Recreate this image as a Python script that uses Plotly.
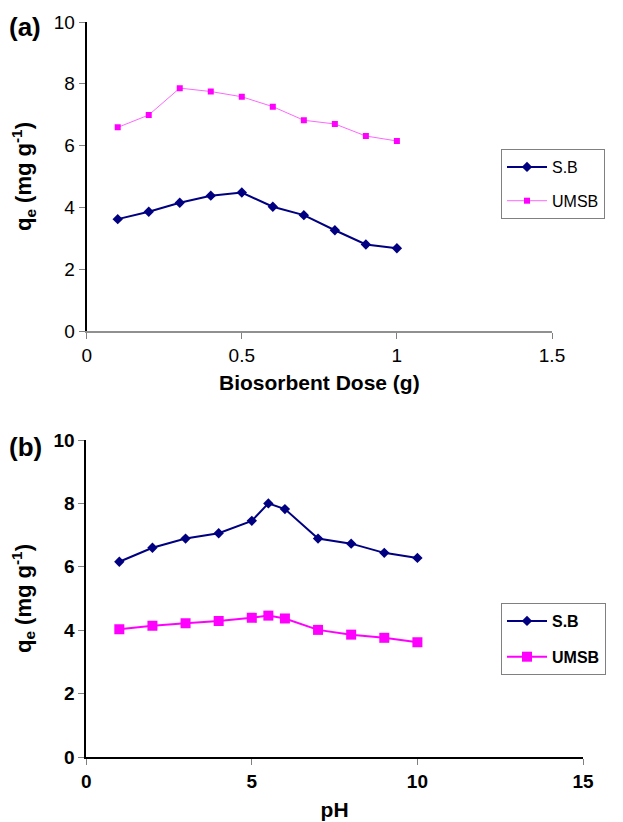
import plotly.graph_objects as go

# Panel (a): biosorbent dose
dose = [0.1, 0.2, 0.3, 0.4, 0.5, 0.6, 0.7, 0.8, 0.9, 1.0]
sb_dose = [3.62, 3.86, 4.15, 4.38, 4.48, 4.02, 3.75, 3.26, 2.80, 2.68]
umsb_dose = [6.59, 6.99, 7.86, 7.75, 7.58, 7.26, 6.82, 6.70, 6.31, 6.15]

# Panel (b): pH
ph = [1, 2, 3, 4, 5, 5.5, 6, 7, 8, 9, 10]
sb_ph = [6.16, 6.60, 6.89, 7.06, 7.45, 8.00, 7.82, 6.89, 6.73, 6.44, 6.28]
umsb_ph = [4.03, 4.14, 4.22, 4.29, 4.39, 4.46, 4.37, 4.01, 3.86, 3.76, 3.62]

W, H = 623, 822
FONT = "Liberation Sans, Arial, sans-serif"
NAVY = "#000080"
MAG = "#FF00FF"

def px_x(p):
    return p / W

def px_y(p):
    return 1 - p / H

fig = go.Figure()

# (a)
fig.add_trace(go.Scatter(x=dose, y=sb_dose, name="S.B", mode="lines+markers",
                         line=dict(color=NAVY, width=2),
                         marker=dict(symbol="diamond", size=8, color=NAVY),
                         xaxis="x", yaxis="y", legend="legend", legendgroup="a1"))
fig.add_trace(go.Scatter(x=dose, y=umsb_dose, name="UMSB", mode="lines+markers",
                         line=dict(color="#FF66FF", width=1),
                         marker=dict(symbol="square", size=6, color=MAG),
                         xaxis="x", yaxis="y", legend="legend", legendgroup="a2"))
# (b)
fig.add_trace(go.Scatter(x=ph, y=sb_ph, name="S.B", mode="lines+markers",
                         line=dict(color=NAVY, width=2),
                         marker=dict(symbol="diamond", size=8, color=NAVY),
                         xaxis="x2", yaxis="y2", legend="legend2", legendgroup="b1"))
fig.add_trace(go.Scatter(x=ph, y=umsb_ph, name="UMSB", mode="lines+markers",
                         line=dict(color=MAG, width=2),
                         marker=dict(symbol="square", size=10, color=MAG),
                         xaxis="x2", yaxis="y2", legend="legend2", legendgroup="b2"))

ytitle = dict(text="q<sub>e</sub> (mg g<sup>-1</sup>)",
              font=dict(family=FONT, size=22, color="black", weight="bold"))

common_ax = dict(showgrid=False, zeroline=False, showline=True, ticks="outside",
                 ticklen=6, tickcolor="#808080", tickwidth=1, automargin=False)

fig.update_layout(
    width=W, height=H, margin=dict(l=0, r=0, t=0, b=0),
    paper_bgcolor="white", plot_bgcolor="white",
    font=dict(family=FONT, color="black"),
    xaxis=dict(domain=[px_x(86.7), px_x(552)], range=[0, 1.5], dtick=0.5,
               linecolor="#909090", linewidth=2,
               tickfont=dict(size=19, family=FONT),
               title=dict(text="Biosorbent Dose (g)", standoff=11,
                          font=dict(size=21, family=FONT, weight="bold")),
               anchor="y", **common_ax),
    yaxis=dict(domain=[px_y(331), px_y(22)], range=[0, 10], dtick=2,
               linecolor="black", linewidth=2,
               tickfont=dict(size=19, family=FONT),
               title=dict(standoff=16, **ytitle),
               anchor="x", **common_ax),
    xaxis2=dict(domain=[px_x(86.2), px_x(583)], range=[0, 15], dtick=5,
                linecolor="black", linewidth=1.5,
                tickfont=dict(size=19, family=FONT, weight="bold"),
                title=dict(text="pH", standoff=12,
                           font=dict(size=21, family=FONT, weight="bold")),
                anchor="y2", **common_ax),
    yaxis2=dict(domain=[px_y(757), px_y(440)], range=[0, 10], dtick=2,
                linecolor="black", linewidth=1.5,
                tickfont=dict(size=19, family=FONT, weight="bold"),
                title=dict(standoff=16, **ytitle),
                anchor="x2", **common_ax),
    legend=dict(x=px_x(501), y=px_y(149), xanchor="left", yanchor="top",
                bordercolor="#808080", borderwidth=1, bgcolor="white",
                font=dict(size=16, family=FONT), tracegroupgap=10,
                itemwidth=40, traceorder="grouped"),
    legend2=dict(x=px_x(501), y=px_y(603), xanchor="left", yanchor="top",
                 bordercolor="#808080", borderwidth=1, bgcolor="white",
                 font=dict(size=16, family=FONT, weight="bold"), tracegroupgap=12,
                 itemwidth=40, traceorder="grouped"),
    annotations=[
        dict(text="(a)", x=px_x(25), y=px_y(27), xref="paper", yref="paper",
             xanchor="center", yanchor="middle",
             showarrow=False, font=dict(size=26, family=FONT, weight="bold")),
        dict(text="(b)", x=px_x(25), y=px_y(447), xref="paper", yref="paper",
             xanchor="center", yanchor="middle",
             showarrow=False, font=dict(size=26, family=FONT, weight="bold")),
    ],
    showlegend=True,
)

fig.write_html("out.html")
